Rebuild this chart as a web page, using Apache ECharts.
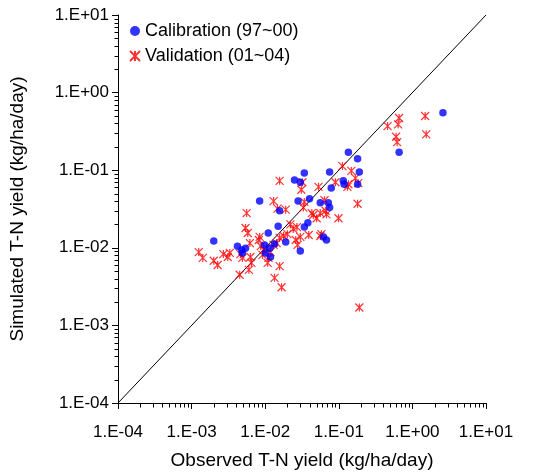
<!DOCTYPE html>
<html><head><meta charset="utf-8">
<script src="https://cdn.jsdelivr.net/npm/echarts@6/dist/echarts.min.js"></script>
<style>html,body{margin:0;padding:0;background:#fff}#c{width:538px;height:475px}</style>
</head><body><div id="c"></div>
<script>
const calibrationData = [
 [2.6,0.55],[0.66,0.17],[0.135,0.17],[0.18,0.14],[0.034,0.092],[0.075,0.095],[0.19,0.095],
 [0.115,0.073],[0.118,0.066],[0.18,0.066],[0.079,0.059],[0.025,0.075],[0.030,0.070],
 [0.040,0.043],[0.072,0.038],[0.056,0.038],[0.075,0.033],[0.028,0.040],[0.0084,0.040],
 [0.0157,0.030],[0.038,0.021],[0.034,0.0185],[0.015,0.019],[0.011,0.0155],[0.062,0.0138],
 [0.068,0.0126],[0.030,0.0091],[0.0020,0.0122],[0.019,0.0119],[0.0042,0.0105],[0.0048,0.0094],
 [0.0054,0.0099],[0.0098,0.0109],[0.0134,0.0112],[0.0115,0.0099],[0.0101,0.0086],[0.0118,0.0076],
 [0.0049,0.0086]
];
const validationData = [
 [0.66,0.47],[0.64,0.39],[0.46,0.37],[0.60,0.27],[0.62,0.23],[1.49,0.50],[1.54,0.29],
 [0.112,0.113],[0.148,0.098],[0.090,0.070],[0.135,0.066],[0.131,0.061],[0.168,0.079],[0.184,0.068],
 [0.053,0.061],[0.032,0.070],[0.031,0.056],[0.064,0.041],[0.034,0.039],[0.033,0.033],[0.18,0.037],
 [0.045,0.0265],[0.050,0.024],[0.056,0.028],[0.068,0.027],[0.099,0.024],[0.039,0.0146],[0.058,0.015],
 [0.030,0.0138],[0.0157,0.073],[0.013,0.040],[0.0147,0.032],[0.019,0.031],[0.0056,0.028],
 [0.0054,0.018],[0.0058,0.0155],[0.0084,0.0138],[0.022,0.020],[0.024,0.0175],[0.026,0.0126],
 [0.0275,0.0109],[0.056,0.0142],[0.00125,0.0088],[0.00142,0.0074],[0.0020,0.0068],[0.00226,0.0060],
 [0.0027,0.0083],[0.0031,0.0076],[0.0033,0.0086],[0.0046,0.0083],[0.0049,0.0074],[0.0062,0.0115],
 [0.0063,0.0076],[0.0065,0.0064],[0.0060,0.0052],[0.0045,0.0045],[0.0134,0.0041],[0.0167,0.0031],
 [0.0157,0.0058],[0.0108,0.0064],[0.19,0.0017],[0.043,0.028],[0.066,0.030],[0.0087,0.0105],
 [0.0095,0.0094],[0.0104,0.0099],[0.0118,0.0088],[0.013,0.0109],[0.0143,0.0115],[0.0092,0.0081],
 [0.0111,0.0074],[0.0082,0.0126],[0.0157,0.0134],[0.0178,0.0142],[0.020,0.015],[0.027,0.0185]
];
const oneToOneLine = [[1e-4,1e-4],[10,10]];
const axisMin = 1e-4, axisMax = 10;
const decades = [1e-4, 1e-3, 1e-2, 1e-1, 1];
const minorMultipliers = [2,3,4,5,6,7,8,9];
const seriesNames = ['Calibration (97~00)','Validation (01~04)'];
const xName = 'Observed T-N yield (kg/ha/day)';
const yName = 'Simulated T-N yield (kg/ha/day)';

const minorTickValues = [];
decades.forEach(d => minorMultipliers.forEach(m => minorTickValues.push(+(d*m).toPrecision(3))));

function fmt(v){
  const e = Math.round(Math.log10(v));
  const s = e < 0 ? '-' : '+';
  const a = Math.abs(e);
  return '1.E' + s + (a < 10 ? '0' + a : a);
}
const FONT = 'Liberation Sans, Arial, sans-serif';
const starPath = 'path://M0,0L10,10M10,0L0,10M5,0L5,10';
function mainAxis(name, isX){
  return {
    type:'log', logBase:10, min:axisMin, max:axisMax,
    name:name, nameLocation:'middle', nameGap: isX ? 48 : 91,
    nameTextStyle:{color:'#000', fontSize:19, fontFamily:FONT},
    axisLine:{show:true, lineStyle:{color:'#000', width:1}},
    axisTick:{show:true, inside:false, length:6, lineStyle:{color:'#000', width:1}},
    axisLabel:{formatter:fmt, color:'#000', fontSize:17, fontFamily:FONT, margin: isX ? 21 : 9},
    splitLine:{show:false}, z:5
  };
}
const chart = echarts.init(document.getElementById('c'), null, {renderer:'canvas'});
chart.setOption({
  animation:false,
  backgroundColor:'#fff',
  grid:{left:117, right:52, top:15, bottom:72, containLabel:false},
  xAxis: mainAxis(xName, true),
  yAxis: mainAxis(yName, false),
  legend:{
    left:124, top:17, orient:'vertical', itemGap:7, itemWidth:10, itemHeight:10,
    textStyle:{fontSize:18, fontFamily:FONT, color:'#000'},
    data:[{name:seriesNames[0], icon:'circle'},{name:seriesNames[1], icon:starPath}]
  },
  series:[
    {type:'line', data:oneToOneLine, symbol:'none', silent:true,
     lineStyle:{color:'#000', width:1}, z:1},
    {name:seriesNames[0], type:'scatter', data:calibrationData, symbol:'circle', symbolSize:7.5,
     itemStyle:{color:'#0000ff'}, z:3},
    {name:seriesNames[1], type:'scatter', data:validationData, symbol:starPath, symbolSize:8,
     itemStyle:{color:'rgba(0,0,0,0)', borderColor:'#ff0000', borderWidth:1.2}, z:2}
  ]
});

// Minor log ticks, positioned through the chart's own axis scales.
const MINOR_LEN = 4;
const yAxisX = Math.round(chart.convertToPixel({xAxisIndex:0}, axisMin)) + 0.5;
const xAxisY = Math.round(chart.convertToPixel({yAxisIndex:0}, axisMin)) + 0.5;
const tickEls = [];
minorTickValues.forEach(v => {
  const px = Math.round(chart.convertToPixel({xAxisIndex:0}, v)) + 0.5;
  const py = Math.round(chart.convertToPixel({yAxisIndex:0}, v)) + 0.5;
  tickEls.push({type:'line', silent:true, z:100,
    shape:{x1:px, y1:xAxisY, x2:px, y2:xAxisY + MINOR_LEN}, style:{stroke:'#000', lineWidth:1}});
  tickEls.push({type:'line', silent:true, z:100,
    shape:{x1:yAxisX, y1:py, x2:yAxisX - MINOR_LEN, y2:py}, style:{stroke:'#000', lineWidth:1}});
});
chart.setOption({graphic:{elements:tickEls}});
</script></body></html>
